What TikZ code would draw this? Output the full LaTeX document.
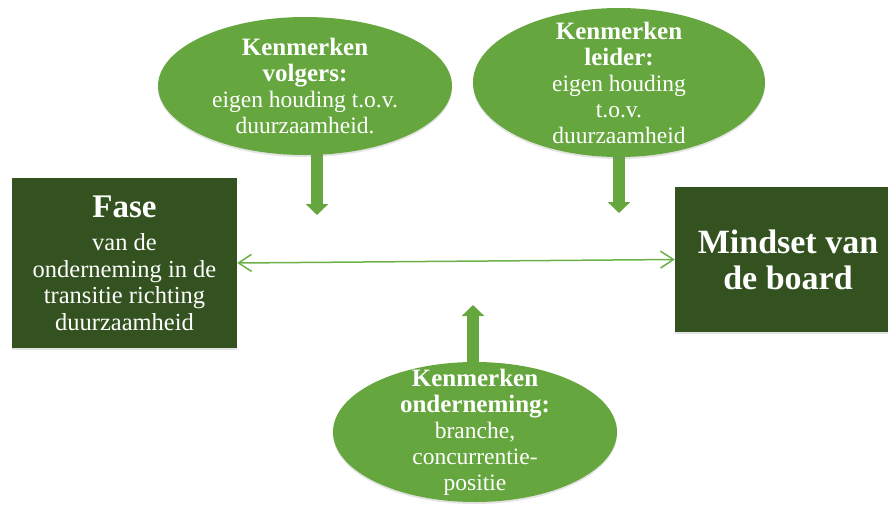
\documentclass[tikz,border=0pt]{standalone}
\usepackage{fontspec}
\setmainfont{Liberation Serif}
\usetikzlibrary{arrows.meta,shapes.geometric,shadows,backgrounds}

\definecolor{leaf}{RGB}{101,167,62}
\definecolor{forest}{RGB}{51,82,31}
\definecolor{linkgreen}{RGB}{108,176,72}

\newcommand\bubblehead{\fontsize{25}{26.5}\bfseries\selectfont}
\newcommand\panelhead{\fontsize{33}{34}\bfseries\selectfont}

\tikzset{
  softshadow/.style={drop shadow={opacity=0.22,shadow xshift=0pt,shadow yshift=-2pt}},
  bubble/.style={ellipse, fill=leaf, inner sep=0pt, softshadow},
  bubbletext/.style={text=white, align=center, inner sep=0pt,
    font=\fontsize{23.5}{26}\selectfont},
  panel/.style={rectangle, fill=forest, text=white, inner sep=0pt,
    align=center, softshadow},
  blockarrow/.style={draw=leaf, line width=12pt,
    -{Triangle[length=11pt,width=22pt]}, shorten <=-6pt},
  link/.style={draw=linkgreen, line width=1.5pt,
    {Straight Barb[length=13pt,width=17pt]}-{Straight Barb[length=13pt,width=17pt]}}
}

\begin{document}
\begin{tikzpicture}[x=1pt,y=-1pt]
  \useasboundingbox (0,0) rectangle (888,504);

  % the two main blocks
  \node[panel, minimum width=225pt, minimum height=170pt,
        font=\fontsize{24.5}{26.5}\selectfont] (fase) at (124.5,263)
    {{\panelhead Fase}\\[7pt]van de\\onderneming in de\\transitie richting\\duurzaamheid};
  \node[panel, minimum width=226pt, minimum height=145pt,
        font=\fontsize{34}{36}\bfseries\selectfont] (mind) at (788,259.5)
    {Mindset van\\de board};

  % the three influencing characteristics
  \node[bubble, minimum width=294pt, minimum height=138pt] (volg) at (305,86) {};
  \node[bubbletext] (volgt) at (volg)
    {{\bubblehead Kenmerken}\\{\bubblehead volgers:}\\eigen houding t.o.v.\\duurzaamheid.};

  \node[bubble, minimum width=292pt, minimum height=149pt] (leid) at (619,82.5) {};
  \node[bubbletext] (leidt) at (leid)
    {{\bubblehead Kenmerken}\\{\bubblehead leider:}\\eigen houding\\t.o.v.\\duurzaamheid};

  \node[bubble, minimum width=284pt, minimum height=140pt] (onder) at (475,432) {};
  \node[bubbletext] (ondert) at (onder)
    {{\bubblehead Kenmerken}\\{\bubblehead onderneming:}\\branche,\\concurrentie-\\positie};

  % arrow targets
  \coordinate (v1) at (317,215);
  \coordinate (v2) at (619,213);
  \coordinate (v3) at (473,305);

  \begin{scope}[on background layer]
    \draw[blockarrow] (volg.south -| v1) -- (v1);
    \draw[blockarrow] (leid.south -| v2) -- (v2);
    \draw[blockarrow] (onder.north -| v3) -- (v3);
  \end{scope}

  % two-way relation between phase and mindset
  \draw[link] (fase.east) -- (mind.west);
\end{tikzpicture}
\end{document}
